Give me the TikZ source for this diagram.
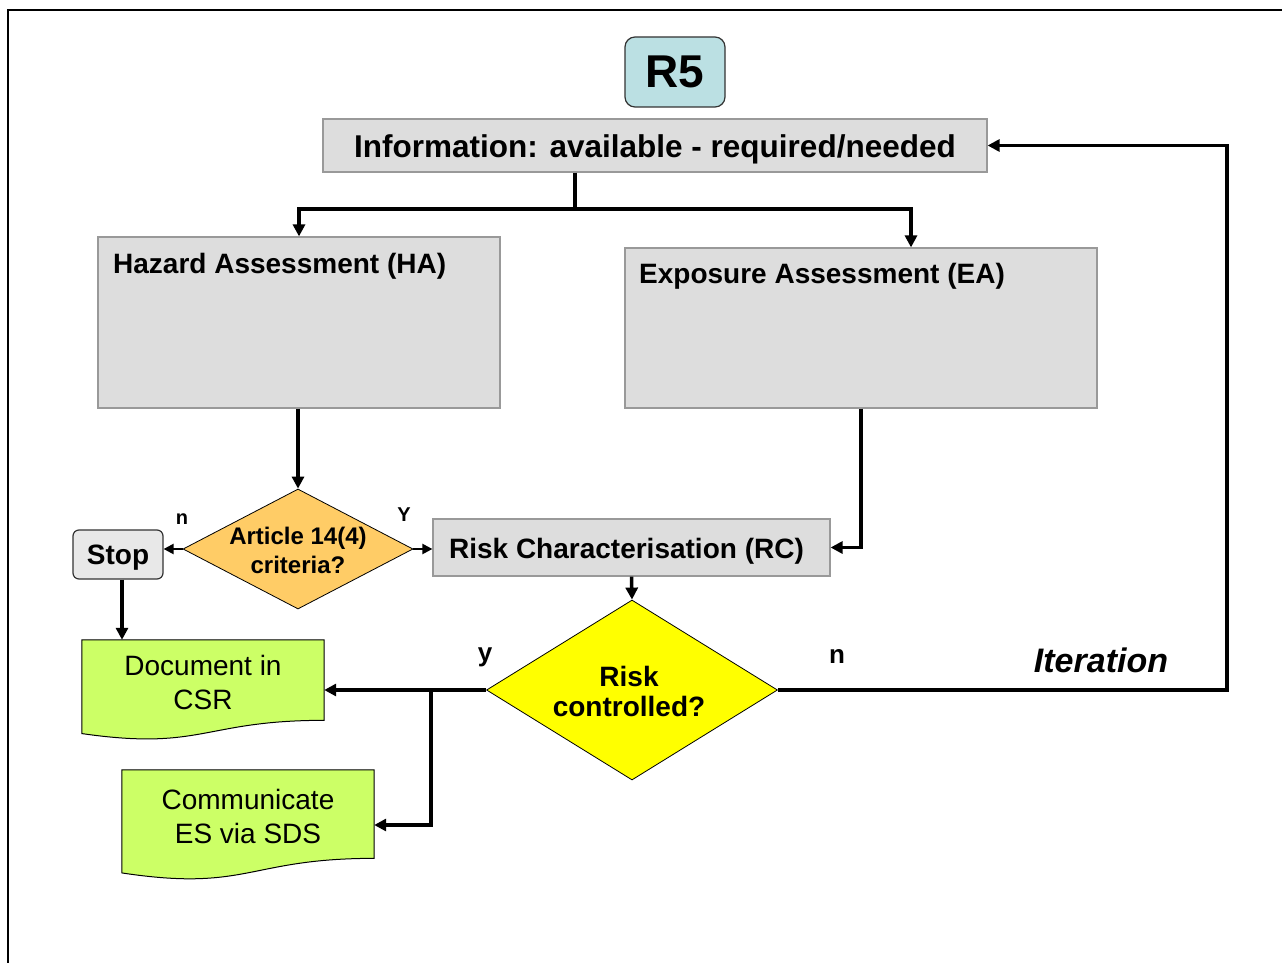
\documentclass[tikz,border=0pt]{standalone}
\usepackage{fontspec}
\setmainfont{Liberation Sans}
\usetikzlibrary{shapes.geometric,arrows.meta,calc}
\definecolor{r5blue}{HTML}{BBE0E3}
\definecolor{boxgray}{HTML}{DDDDDD}
\definecolor{boxline}{HTML}{999999}
\definecolor{stopgray}{HTML}{E8E8E8}
\definecolor{artorange}{HTML}{FFCC66}
\definecolor{docgreen}{HTML}{CCFF66}
\definecolor{pureyellow}{HTML}{FFFF00}
\begin{document}
\begin{tikzpicture}[x=1pt,y=-1pt,
 graybox/.style={draw=boxline,line width=1.2pt,fill=boxgray,inner sep=0pt},
 conn/.style={line width=3.5pt,-{Triangle[length=12pt,width=12pt]}},
 tconn/.style={line width=2.2pt,-{Triangle[length=10pt,width=10pt]}},
 plainline/.style={line width=3.5pt},
 bigbf/.style={font=\fontsize{28}{34}\selectfont\bfseries},
 lbl/.style={font=\fontsize{20}{24}\selectfont\bfseries},
 biglbl/.style={font=\fontsize{26}{30}\selectfont\bfseries},
 docshape/.style={draw=black,line width=1pt,fill=docgreen},
 decision/.style={diamond,draw=black,line width=0.8pt,inner sep=0pt}
]
\useasboundingbox (0,0) rectangle (1282,963);
\draw[line width=2pt] (1282,10) -- (8,10) -- (8,963);

\node[draw=black!80,line width=1.2pt,fill=r5blue,rounded corners=10pt,minimum width=100pt,minimum height=70pt,font=\fontsize{46}{50}\selectfont\bfseries] (r5) at (675,72) {R5};
\node[graybox,minimum width=664pt,minimum height=53pt] (info) at (655,145.5) {};
\node[font=\fontsize{31.5}{38}\selectfont\bfseries] (infoT) at ([yshift=-4pt]info.center) {Information: available - required/needed};

\node[graybox,minimum width=402pt,minimum height=171pt] (ha) at (299,322.5) {};
\node[bigbf,anchor=west,inner sep=0pt] (haT) at (113,266) {Hazard Assessment (HA)};
\node[graybox,minimum width=472pt,minimum height=160pt] (ea) at (861,328) {};
\node[bigbf,anchor=west,inner sep=0pt] (eaT) at (639,276) {Exposure Assessment (EA)};

\node[decision,fill=artorange,minimum width=230pt,minimum height=120pt] (art) at (298,549) {};
\node[align=center,font=\fontsize{24}{29}\selectfont\bfseries] (artT) at ([yshift=-1.5pt]art.center) {Article 14(4)\\criteria?};

\node[draw=black!80,line width=1.2pt,fill=stopgray,rounded corners=6pt,minimum width=90pt,minimum height=49pt,inner sep=0pt] (stop) at (118,554.5) {};
\node[bigbf] (stopT) at ([yshift=-3pt]stop.center) {Stop};

\node[graybox,minimum width=397pt,minimum height=57pt] (rc) at (631.5,547.5) {};
\node[bigbf] (rcT) at ([xshift=-5pt,yshift=-4pt]rc.center) {Risk Characterisation (RC)};

\node[decision,fill=pureyellow,minimum width=291pt,minimum height=180pt] (risk) at (632,690) {};
\node[align=center,font=\fontsize{28}{30}\selectfont\bfseries] (riskT) at ([xshift=-3pt,yshift=-1pt]risk.center) {Risk\\controlled?};

\node[minimum width=242pt,minimum height=100pt,inner sep=0pt] (doc) at (203,690) {};
\path[docshape] (doc.north west) -- (doc.north east) -- ($(doc.north east)!0.802!(doc.south east)$) .. controls ($(doc.north)!0.802!(doc.south)$) and ($(doc.north)!1.1075!(doc.south)$) .. ($(doc.north west)!0.934!(doc.south west)$) -- cycle;
\node[align=center,font=\fontsize{28}{34}\selectfont] (docT) at ([yshift=8pt]doc.center) {Document in\\CSR};

\node[minimum width=252pt,minimum height=110pt,inner sep=0pt] (comm) at (248,825) {};
\path[docshape] (comm.north west) -- (comm.north east) -- ($(comm.north east)!0.802!(comm.south east)$) .. controls ($(comm.north)!0.802!(comm.south)$) and ($(comm.north)!1.1075!(comm.south)$) .. ($(comm.north west)!0.934!(comm.south west)$) -- cycle;
\node[align=center,font=\fontsize{28}{34}\selectfont] (commT) at ([yshift=9pt]comm.center) {Communicate\\ES via SDS};

\node[lbl] (nA) at (182,519) {n};
\node[lbl] (yA) at (404,515) {Y};
\node[biglbl] (yR) at (485,657) {y};
\node[biglbl] (nR) at (837,656) {n};
\node[font=\fontsize{34}{40}\selectfont\bfseries\itshape] (iter) at (1101,660) {Iteration};

\coordinate (split) at (575,209);
\draw[plainline] (split |- info.south) -- (split);
\draw[conn] (split) -| (ha.north);
\draw[conn] (split) -| ([xshift=50pt]ea.north);
\draw[conn] (art.north |- ha.south) -- (art.north);
\draw[conn] (ea.south) |- (rc.east);
\draw[tconn] (art.east) -- (art.east -| rc.west);
\draw[tconn] (art.west) -- (art.west -| stop.east);
\draw[conn] ([xshift=4pt]stop.south) -- ([xshift=4pt]stop.south |- doc.north);
\draw[conn] (rc.south) -- (risk.north);
\draw[conn] (risk.west) -- (risk.west -| doc.east);
\coordinate (br) at (431,690);
\draw[conn] (br) |- (comm.east);
\coordinate (itc) at (1227,690);
\draw[conn] (risk.east) -- (itc) |- (info.east);
\end{tikzpicture}
\end{document}
